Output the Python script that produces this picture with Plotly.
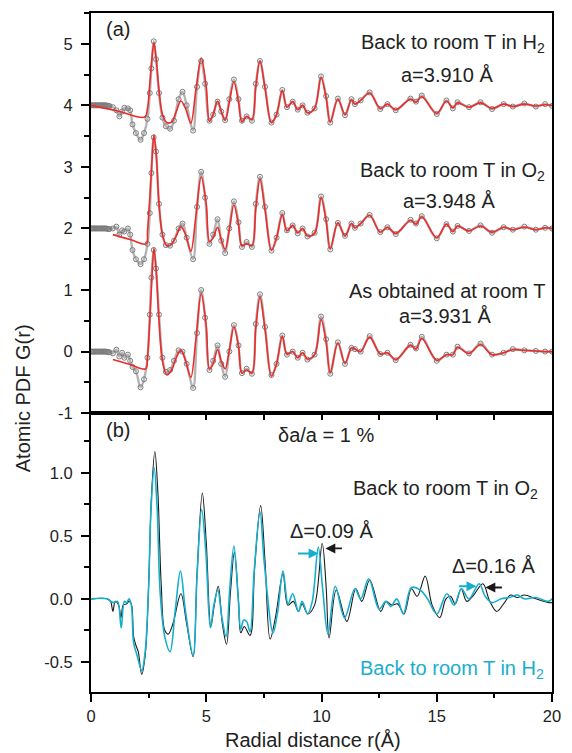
import plotly.graph_objects as go

# ---------------- data ----------------
# top panel: experimental PDF data (open circles), shared r grid
r_top = [0.0, 0.05, 0.1, 0.15, 0.2, 0.25, 0.3, 0.35, 0.4, 0.45, 0.5, 0.55, 0.6, 0.65, 0.7, 0.75, 0.8,
         0.95, 1.1, 1.23, 1.35, 1.45, 1.6, 1.7, 1.8, 1.95, 2.15, 2.3, 2.45, 2.55, 2.62, 2.72, 2.82,
         2.95, 3.1, 3.25, 3.43, 3.6, 3.8, 3.97, 4.15, 4.43, 4.6, 4.78, 4.95, 5.14, 5.3, 5.49, 5.65, 5.82, 6.0, 6.2, 6.4,
         6.55, 6.75, 6.98, 7.15, 7.33, 7.55, 7.83, 8.05, 8.3, 8.5, 8.75, 8.97, 9.18, 9.39, 9.7, 9.98, 10.2, 10.38, 10.71,
         11.02, 11.3, 11.45, 11.7, 12.09, 12.55, 12.86, 13.22, 13.86, 14.1, 14.35, 15.0, 15.42, 15.7, 15.9, 16.4, 16.9,
         17.4, 17.9, 18.3, 18.8, 19.3, 19.7, 20.0]
g_h2_data = [4.0, 4.0, 4.0, 4.0, 4.0, 4.0, 4.0, 4.0, 4.0, 4.0, 4.0, 4.0, 4.0, 4.0, 3.995, 3.99, 3.99,
             3.97, 3.92, 3.82, 3.9, 3.96, 3.95, 3.92, 3.69, 3.55, 3.44, 3.55, 3.78, 4.2, 4.6, 5.04, 4.75,
             4.2, 3.8, 3.66, 3.62, 3.75, 4.1, 4.22, 4.0, 3.59, 4.3, 4.72, 4.35, 3.75, 3.85, 4.06, 3.9, 3.76, 4.1, 4.42, 4.1,
             3.75, 3.82, 3.75, 4.35, 4.72, 4.3, 3.72, 3.85, 4.25, 3.97, 4.06, 3.93, 4.0, 3.88, 3.95, 4.47, 4.15, 3.72, 4.11,
             3.84, 4.1, 4.02, 4.08, 4.21, 3.94, 4.02, 3.92, 4.11, 4.06, 4.16, 3.86, 4.08, 3.95, 4.05, 3.97, 4.05,
             3.94, 4.02, 3.98, 4.03, 3.98, 4.02, 3.99]
g_o2_data = [2.0, 2.0, 2.0, 2.0, 2.0, 2.0, 2.0, 2.0, 2.0, 2.0, 2.0, 2.0, 2.0, 2.0, 1.995, 1.99, 1.99,
             2.0, 2.03, 1.9, 1.97, 1.95, 2.0, 1.9, 1.65, 1.5, 1.42, 1.5, 1.75, 2.25, 2.9, 3.48, 3.25,
             2.4, 1.9, 1.73, 1.72, 1.8, 2.0, 2.08, 1.85, 1.5, 2.35, 2.92, 2.5, 1.75, 1.9, 2.15, 1.8, 1.6, 2.0, 2.44, 2.1,
             1.7, 1.78, 1.7, 2.4, 2.84, 2.35, 1.64, 1.85, 2.25, 1.97, 2.05, 1.92, 2.0, 1.87, 1.93, 2.52, 2.15, 1.66, 2.09,
             1.88, 2.08, 2.01, 2.08, 2.22, 1.94, 2.02, 1.91, 2.14, 2.08, 2.2, 1.84, 2.07, 1.95, 2.04, 1.96, 2.05,
             1.93, 2.02, 1.98, 2.03, 1.98, 2.01, 2.0]
g_as_data = [0.0, 0.0, 0.0, 0.0, 0.0, 0.0, 0.0, 0.0, 0.0, 0.0, 0.0, 0.0, 0.0, 0.0, -0.005, -0.01, -0.01,
             -0.03, 0.03, -0.08, -0.02, -0.1, -0.05, -0.15, -0.25, -0.32, -0.58, -0.45, -0.1, 0.6,
             1.2, 1.65, 1.35, 0.6, -0.1, -0.33, -0.3, -0.15, 0.02, 0.0, -0.2, -0.59, 0.3, 1.0, 0.55, -0.3, -0.15, 0.1,
             -0.2, -0.41, 0.0, 0.43, 0.1, -0.35, -0.28, -0.36, 0.45, 0.93, 0.4, -0.38, -0.2, 0.26, -0.05, 0.0, -0.1,
             -0.02, -0.13, -0.05, 0.57, 0.2, -0.36, 0.15, -0.2, 0.06, 0.04, 0.0, 0.25, -0.04, -0.02, -0.14, 0.11, 0.05,
             0.24, -0.15, -0.05, -0.05, 0.08, -0.03, 0.13, -0.05, -0.02, 0.04, 0.02, 0.01, 0.0, 0.0]

# top panel: fits (red lines); straight low-r segment + shared grid
r_fit = [2.45, 2.55, 2.63, 2.73, 2.83, 2.95, 3.1, 3.29, 3.5, 3.7, 3.9, 4.1, 4.33, 4.55, 4.78, 5.0, 5.14, 5.3, 5.49, 5.65,
         5.82, 6.0, 6.2, 6.4, 6.55, 6.75, 6.98, 7.15, 7.33, 7.55, 7.83, 8.05, 8.3, 8.5, 8.75, 8.97, 9.18, 9.39, 9.7, 9.98,
         10.2, 10.38, 10.71, 11.02, 11.3, 11.45, 11.7, 12.09, 12.55, 12.86, 13.22, 13.86, 14.1, 14.35, 15.0, 15.42,
         15.7, 15.9, 16.4, 16.9, 17.4, 17.9, 18.3, 18.8, 19.3, 19.7, 20.0]
r_h2_start = [0.0, 1.2, 2.33]
g_h2_start = [4.0, 3.905, 3.81]
g_h2_fit = [3.95, 4.35, 4.7, 5.02, 4.75, 4.25, 3.85, 3.72, 3.73, 3.9, 4.07, 3.95, 3.71, 4.25, 4.77, 4.3, 3.74, 3.85, 4.07,
            3.9, 3.76, 4.05, 4.38, 4.05, 3.73, 3.82, 3.77, 4.3, 4.72, 4.28, 3.72, 3.85, 4.24, 3.97, 4.06, 3.93, 4.0, 3.88,
            3.95, 4.45, 4.12, 3.73, 4.1, 3.85, 4.09, 4.02, 4.08, 4.2, 3.95, 4.02, 3.93, 4.1, 4.05, 4.14, 3.87, 4.07, 3.96,
            4.04, 3.97, 4.04, 3.95, 4.02, 3.98, 4.02, 3.99, 4.01, 4.0]
r_o2_start = [0.95, 1.7, 2.4]
g_o2_start = [1.9, 1.82, 1.75]
g_o2_fit = [1.95, 2.5, 3.0, 3.52, 3.2, 2.4, 1.9, 1.72, 1.75, 1.88, 2.03, 1.9, 1.63, 2.2, 2.84, 2.4, 1.79, 1.85, 2.02, 1.82,
            1.66, 1.98, 2.38, 2.05, 1.72, 1.75, 1.72, 2.32, 2.8, 2.3, 1.65, 1.85, 2.22, 1.96, 2.05, 1.93, 2.0, 1.88, 1.92,
            2.5, 2.12, 1.67, 2.09, 1.88, 2.08, 2.01, 2.08, 2.21, 1.94, 2.02, 1.92, 2.13, 2.07, 2.19, 1.85, 2.07, 1.95,
            2.04, 1.96, 2.04, 1.94, 2.02, 1.98, 2.02, 1.98, 2.01, 2.0]
r_as_start = [0.95, 1.66, 2.37]
g_as_start = [-0.13, -0.205, -0.28]
g_as_fit = [-0.1, 0.5, 1.1, 1.68, 1.3, 0.5, -0.15, -0.38, -0.3, -0.1, 0.02, -0.15, -0.42, 0.2, 0.94, 0.42, -0.28, -0.2,
            0.03, -0.15, -0.28, 0.02, 0.4, 0.08, -0.35, -0.3, -0.35, 0.38, 0.88, 0.36, -0.4, -0.2, 0.25, -0.04, 0.0, -0.1,
            -0.02, -0.12, -0.05, 0.52, 0.15, -0.34, 0.14, -0.19, 0.06, 0.04, 0.0, 0.23, -0.04, -0.02, -0.13, 0.1, 0.04,
            0.21, -0.14, -0.05, -0.05, 0.07, -0.03, 0.11, -0.05, -0.02, 0.03, 0.02, 0.01, 0.0, 0.0]

# bottom panel
r_bot_o2 = [0.0, 0.7, 0.85, 0.95, 1.05, 1.2, 1.3, 1.4, 1.55, 1.65, 1.75, 1.85, 1.95, 2.05, 2.2, 2.35, 2.5, 2.62, 2.77, 2.9,
            3.05, 3.2, 3.35, 3.55, 3.9, 4.15, 4.43, 4.6, 4.83, 5.0, 5.2, 5.35, 5.52, 5.7, 5.88, 6.05, 6.22, 6.4, 6.5,
            6.65, 6.9, 7.1, 7.36, 7.55, 7.77, 8.0, 8.33, 8.54, 8.78, 9.0, 9.16, 9.4, 9.7, 10.03, 10.2, 10.33, 10.64,
            11.1, 11.49, 11.75, 12.09, 12.57, 12.8, 13.05, 13.3, 13.58, 13.9, 14.15, 14.5, 14.8, 15.13, 15.4, 15.6,
            15.8, 16.06, 16.3, 16.6, 17.0, 17.3, 17.6, 17.9, 18.2, 18.5, 18.8, 19.3, 19.85, 20.0]
g_bot_o2 = [0.0, 0.0, -0.02, -0.1, -0.02, -0.05, -0.15, -0.05, -0.04, -0.02, -0.04, -0.3, -0.37, -0.42, -0.6, -0.45, 0.1,
            0.8, 1.17, 0.85, 0.1, -0.25, -0.28, -0.2, 0.04, -0.2, -0.46, 0.2, 0.84, 0.45, -0.22, -0.05, 0.1, -0.2, -0.36,
            0.05, 0.37, -0.02, -0.27, -0.22, -0.29, 0.25, 0.74, 0.3, -0.32, -0.15, 0.2, -0.05, -0.02, -0.1, -0.04, -0.12,
            -0.05, 0.44, 0.1, -0.31, 0.07, -0.18, 0.08, -0.02, 0.15, -0.1, -0.02, -0.05, -0.04, -0.12, 0.08, 0.02, 0.18,
            -0.05, -0.15, 0.0, 0.02, -0.04, 0.08, -0.02, 0.03, 0.12, -0.02, -0.1, -0.04, 0.03, 0.01, 0.03, 0.0, -0.03,
            -0.03]
r_bot_h2 = [0.0, 0.7, 0.85, 1.0, 1.15, 1.31, 1.45, 1.55, 1.65, 1.75, 1.85, 2.0, 2.2, 2.35, 2.5, 2.6, 2.74, 2.87, 3.0, 3.2,
            3.43, 3.65, 3.88, 4.1, 4.43, 4.6, 4.8, 4.98, 5.18, 5.33, 5.5, 5.68, 5.86, 6.02, 6.2, 6.38, 6.5, 6.62, 6.75,
            6.9, 7.08, 7.33, 7.52, 7.9, 8.1, 8.33, 8.55, 8.75, 9.0, 9.16, 9.4, 9.6, 9.86, 10.05, 10.28, 10.6, 11.0,
            11.45, 11.7, 12.05, 12.5, 12.8, 13.0, 13.27, 13.55, 13.9, 14.28, 14.6, 15.0, 15.44, 15.75, 16.07, 16.4,
            16.84, 17.1, 17.4, 17.8, 18.15, 18.5, 18.8, 19.3, 19.85, 20.0]
g_bot_h2 = [0.0, 0.0, -0.02, -0.03, -0.02, -0.23, -0.02, -0.03, 0.0, -0.05, -0.35, -0.45, -0.57, -0.42, 0.1, 0.7, 1.04,
            0.72, 0.05, -0.3, -0.42, -0.1, 0.22, -0.1, -0.45, 0.18, 0.71, 0.38, -0.23, -0.05, 0.07, -0.15, -0.3, 0.08, 0.42,
            0.02, -0.24, -0.17, -0.18, -0.26, 0.22, 0.69, 0.28, -0.27, -0.1, 0.22, -0.04, 0.04, -0.1, -0.02, -0.12, -0.02,
            0.41, 0.08, -0.28, 0.1, -0.15, 0.08, 0.0, 0.16, -0.08, -0.02, -0.06, 0.0, -0.12, 0.09, 0.07, 0.0, -0.12, 0.04,
            -0.05, 0.08, 0.0, 0.12, 0.02, -0.03, 0.0, 0.01, 0.03, 0.0, 0.01, -0.02, 0.0]

top_ticks = [-1, 0, 1, 2, 3, 4, 5]
top_ticktext = ["-1", "0", "1", "2", "3", "4", "5"]
bot_ticks = [-0.5, 0.0, 0.5, 1.0]
bot_ticktext = ["-0.5", "0.0", "0.5", "1.0"]
x_ticks = [0, 5, 10, 15, 20]

# ---------------- styles ----------------
FONT = "Liberation Sans, Arial, Helvetica, sans-serif"
RED = "#ec2b2b"
GRAY = "#7c7c7c"
CYAN = "#17aecd"
BLACK = "#1a1a1a"
SM = 1.0

fig = go.Figure()

for g in (g_h2_data, g_o2_data, g_as_data):
    fig.add_trace(go.Scatter(x=r_top, y=g, mode="lines+markers", xaxis="x2", yaxis="y2",
                             line=dict(color="#b4b4b4", width=2.4, shape="spline", smoothing=SM),
                             marker=dict(symbol="circle-open", size=5, color=GRAY, line=dict(width=1)),
                             showlegend=False, hoverinfo="skip"))

for rs, gs, gf in ((r_h2_start, g_h2_start, g_h2_fit), (r_o2_start, g_o2_start, g_o2_fit),
                   (r_as_start, g_as_start, g_as_fit)):
    fig.add_trace(go.Scatter(x=rs + r_fit, y=gs + gf, mode="lines", xaxis="x2", yaxis="y2",
                             line=dict(color=RED, width=1.6, shape="spline", smoothing=SM),
                             showlegend=False, hoverinfo="skip"))

fig.add_trace(go.Scatter(x=r_bot_o2, y=g_bot_o2, mode="lines", xaxis="x", yaxis="y",
                         line=dict(color=BLACK, width=1.1, shape="spline", smoothing=SM),
                         showlegend=False, hoverinfo="skip"))
fig.add_trace(go.Scatter(x=r_bot_h2, y=g_bot_h2, mode="lines", xaxis="x", yaxis="y",
                         line=dict(color=CYAN, width=1.6, shape="spline", smoothing=SM),
                         showlegend=False, hoverinfo="skip"))

axis_common = dict(showline=True, linecolor="black", linewidth=2, mirror=True, showgrid=False, zeroline=False,
                   ticks="outside", tickcolor="black", tickwidth=1.5,
                   tickfont=dict(family=FONT, size=16.5, color="#222"))

split = 0.4107
fig.update_layout(
    width=572, height=753,
    margin=dict(l=91, r=11, t=11, b=61),
    paper_bgcolor="white", plot_bgcolor="white",
    xaxis=dict(domain=[0, 1], range=[0, 20], anchor="y", tickvals=x_ticks, ticklen=8,
               minor=dict(ticks="outside", ticklen=4, tickwidth=1.5, tickcolor="black", dtick=2.5, tick0=0),
               **axis_common),
    yaxis=dict(domain=[0, split], range=[-0.74, 1.475], anchor="x", tickvals=bot_ticks, ticktext=bot_ticktext,
               ticklen=8, ticklabelstandoff=5,
               minor=dict(ticks="outside", ticklen=5, tickwidth=1.5, tickcolor="black", dtick=0.25, tick0=0),
               **axis_common),
    xaxis2=dict(domain=[0, 1], range=[0, 20], anchor="y2", tickvals=[2.5, 5, 7.5, 10, 12.5, 15, 17.5],
                ticklen=5, showticklabels=False, **axis_common),
    yaxis2=dict(domain=[split, 1], range=[-1, 5.5], anchor="x2", tickvals=top_ticks, ticktext=top_ticktext,
                ticklen=8, ticklabelstandoff=5,
                minor=dict(ticks="outside", ticklen=5, tickwidth=1.5, tickcolor="black", dtick=0.5, tick0=0),
                **axis_common),
)

ann = []
def add(text, x, y, xref, yref, xanchor="center", color="#222", size=20, **kw):
    ann.append(dict(text=text, x=x, y=y, xref=xref, yref=yref, xanchor=xanchor, yanchor="middle",
                    showarrow=False, font=dict(family=FONT, size=size, color=color), **kw))

add("(a)", 1.19, 5.24, "x2", "y2")
add("Back to room T in H<sub>2</sub>", 19.8, 5.0, "x2", "y2", xanchor="right")
add("a=3.910 Å", 15.45, 4.5, "x2", "y2")
add("Back to room T in O<sub>2</sub>", 19.8, 2.93, "x2", "y2", xanchor="right")
add("a=3.948 Å", 15.53, 2.44, "x2", "y2")
add("As obtained at room T", 19.8, 0.98, "x2", "y2", xanchor="right")
add("a=3.931 Å", 15.36, 0.575, "x2", "y2")

add("(b)", 1.19, 1.34, "x", "y")
add("δa/a = 1 %", 10.2, 1.305, "x", "y")
add("Back to room T in O<sub>2</sub>", 19.5, 0.87, "x", "y", xanchor="right")
add("Δ=0.09 Å", 10.45, 0.538, "x", "y")
add("Δ=0.16 Å", 17.5, 0.26, "x", "y")
add("Back to room T in H<sub>2</sub>", 19.75, -0.56, "x", "y", xanchor="right", color=CYAN)

add("Atomic PDF G(r)", -0.147, 0.433, "paper", "paper", textangle=-90)
add("Radial distance r(Å)", 0.481, -0.07, "paper", "paper")

# arrows marking the peak shifts
for hx, hy, dx, col in ((9.87, 0.36, -22, CYAN), (10.17, 0.40, 18, BLACK),
                        (16.72, 0.10, -19, CYAN), (17.11, 0.09, 18, BLACK)):
    ann.append(dict(x=hx, y=hy, xref="x", yref="y", ax=dx, ay=0, text="", showarrow=True,
                    arrowhead=2, arrowsize=1.1, arrowwidth=1.8, arrowcolor=col, standoff=0))

fig.update_layout(annotations=ann)
fig.write_html("out.html")
